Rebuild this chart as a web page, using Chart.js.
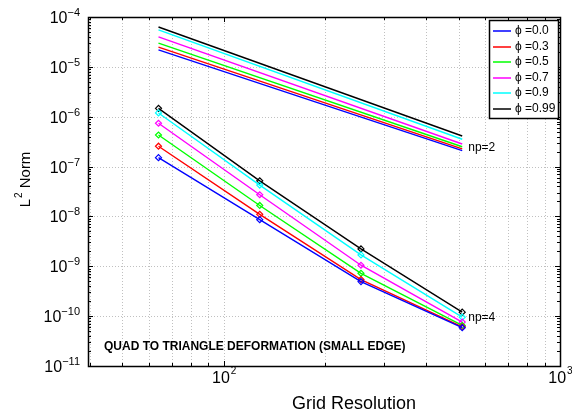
<!DOCTYPE html>
<html><head><meta charset="utf-8">
<script src="https://cdn.jsdelivr.net/npm/chart.js@4/dist/chart.umd.min.js"></script>
<style>html,body{margin:0;padding:0;background:#fff}canvas{display:block}</style>
</head><body>
<canvas id="c" width="572" height="419"></canvas>
<script>
// ---- data ----
const gridRes = [64, 128, 256, 512];     // np=4 sample points
const gridResNp2 = [64, 512];             // np=2 lines (drawn without markers)
const phiLabels = ['ϕ =0.0', 'ϕ =0.3', 'ϕ =0.5', 'ϕ =0.7', 'ϕ =0.9', 'ϕ =0.99'];
const seriesColors = ['#0000ff', '#ff0000', '#00ff00', '#ff00ff', '#00ffff', '#000000'];

const np2_phi000 = [2.19e-5, 2.09e-7];
const np2_phi030 = [2.48e-5, 2.26e-7];
const np2_phi050 = [3.0e-5, 2.5e-7];
const np2_phi070 = [4.0e-5, 2.84e-7];
const np2_phi090 = [5.5e-5, 3.53e-7];
const np2_phi099 = [6.3e-5, 4.1e-7];

const np4_phi000 = [1.51e-7, 8.6e-9, 4.94e-10, 5.86e-11];
const np4_phi030 = [2.56e-7, 1.1e-8, 5.42e-10, 6.1e-11];
const np4_phi050 = [4.3e-7, 1.66e-8, 7.24e-10, 6.5e-11];
const np4_phi070 = [7.4e-7, 2.72e-8, 1.05e-9, 7.59e-11];
const np4_phi090 = [1.19e-6, 4.25e-8, 1.69e-9, 9.55e-11];
const np4_phi099 = [1.47e-6, 5.18e-8, 2.23e-9, 1.2e-10];

const xTickDecades = [2, 3];
const yTickDecades = [-4, -5, -6, -7, -8, -9, -10, -11];
const xLabel = 'Grid Resolution';
const yLabelMain = 'L', yLabelSup = '2', yLabelRest = ' Norm';
const annotNp2 = 'np=2', annotNp4 = 'np=4';
const titleNote = 'QUAD TO TRIANGLE DEFORMATION (SMALL EDGE)';

const np2Series = [np2_phi000, np2_phi030, np2_phi050, np2_phi070, np2_phi090, np2_phi099];
const np4Series = [np4_phi000, np4_phi030, np4_phi050, np4_phi070, np4_phi090, np4_phi099];

const FONT = '"Liberation Sans", Arial, Helvetica, sans-serif';

const datasets = [];
np2Series.forEach((s, i) => datasets.push({
  label: phiLabels[i] + ' np=2',
  data: gridResNp2.map((x, j) => ({x, y: s[j]})),
  borderColor: seriesColors[i], borderWidth: 1.4, pointRadius: 0, fill: false, tension: 0
}));
np4Series.forEach((s, i) => datasets.push({
  label: phiLabels[i] + ' np=4',
  data: gridRes.map((x, j) => ({x, y: s[j]})),
  borderColor: seriesColors[i], borderWidth: 1.4, pointStyle: 'rectRot', pointRadius: 3,
  pointBorderWidth: 1.2, pointBorderColor: seriesColors[i], pointBackgroundColor: 'rgba(255,255,255,0)',
  fill: false, tension: 0
}));

function minorVals(lo, hi) { // all 1..9 x 10^k within [lo,hi]
  const out = [];
  for (let k = Math.floor(Math.log10(lo)) - 1; k <= Math.ceil(Math.log10(hi)); k++)
    for (let m = 1; m <= 9; m++) {
      const v = m * Math.pow(10, k);
      if (v >= lo * 0.9999 && v <= hi * 1.0001) out.push({v, major: m === 1});
    }
  return out;
}

const decor = {
  id: 'decor',
  beforeDatasetsDraw(chart) {
    const {ctx, chartArea: a, scales: {x, y}} = chart;
    ctx.save();
    ctx.strokeStyle = '#c0c0c0'; ctx.lineWidth = 1; ctx.setLineDash([1, 2]);
    minorVals(x.min, x.max).forEach(t => {
      const px = Math.round(x.getPixelForValue(t.v)) + 0.5;
      if (px <= a.left + 1 || px >= a.right - 1) return;
      ctx.beginPath(); ctx.moveTo(px, a.top); ctx.lineTo(px, a.bottom); ctx.stroke();
    });
    yTickDecades.forEach(d => {
      const py = Math.round(y.getPixelForValue(Math.pow(10, d))) + 0.5;
      if (py <= a.top + 1 || py >= a.bottom - 1) return;
      ctx.beginPath(); ctx.moveTo(a.left, py); ctx.lineTo(a.right, py); ctx.stroke();
    });
    ctx.restore();
  },
  afterDatasetsDraw(chart) {
    const {ctx, chartArea: a, scales: {x, y}} = chart;
    ctx.save();
    ctx.setLineDash([]);
    ctx.strokeStyle = '#000'; ctx.lineWidth = 1;
    // ticks
    ctx.beginPath();
    minorVals(x.min, x.max).forEach(t => {
      const px = Math.round(x.getPixelForValue(t.v)) + 0.5;
      const L = t.major ? 5 : 3;
      ctx.moveTo(px, a.bottom); ctx.lineTo(px, a.bottom - L);
      ctx.moveTo(px, a.top); ctx.lineTo(px, a.top + L);
    });
    minorVals(y.min, y.max).forEach(t => {
      const py = Math.round(y.getPixelForValue(t.v)) + 0.5;
      const L = t.major ? 5 : 3;
      ctx.moveTo(a.left, py); ctx.lineTo(a.left + L, py);
      ctx.moveTo(a.right, py); ctx.lineTo(a.right - L, py);
    });
    ctx.stroke();
    // box
    ctx.lineWidth = 1.5;
    ctx.strokeRect(Math.round(a.left) + 0.5, Math.round(a.top) + 0.5,
                   Math.round(a.right - a.left), Math.round(a.bottom - a.top));
    ctx.lineWidth = 1;
    ctx.fillStyle = '#000';
    // x tick labels
    xTickDecades.forEach(d => {
      const px = x.getPixelForValue(Math.pow(10, d));
      ctx.font = '16px ' + FONT; ctx.textBaseline = 'alphabetic'; ctx.textAlign = 'left';
      const w1 = ctx.measureText('10').width;
      ctx.font = '10px ' + FONT;
      const w2 = ctx.measureText(String(d)).width;
      const x0 = px - (w1 + w2) / 2;
      ctx.font = '16px ' + FONT; ctx.fillText('10', x0, a.bottom + 17);
      ctx.font = '10px ' + FONT; ctx.fillText(String(d), x0 + w1 + 1, a.bottom + 8);
    });
    // y tick labels
    yTickDecades.forEach(d => {
      const py = y.getPixelForValue(Math.pow(10, d));
      const e = '\u2212' + String(-d);
      ctx.font = '11px ' + FONT;
      const w2 = ctx.measureText(e).width;
      ctx.textAlign = 'left'; ctx.textBaseline = 'alphabetic';
      ctx.fillText(e, a.left - 8 - w2, py - 1);
      ctx.font = '16px ' + FONT;
      const w1 = ctx.measureText('10').width;
      ctx.fillText('10', a.left - 8 - w2 - w1, py + 6);
    });
    // axis titles
    ctx.font = '18px ' + FONT; ctx.textAlign = 'center'; ctx.textBaseline = 'middle';
    ctx.fillText(xLabel, 354, 404);
    ctx.save();
    ctx.translate(24, 180); ctx.rotate(-Math.PI / 2);
    ctx.font = '15px ' + FONT;
    const wl = ctx.measureText(yLabelMain).width;
    const wr = ctx.measureText(yLabelRest).width;
    ctx.font = '10px ' + FONT;
    const ws = ctx.measureText(yLabelSup).width;
    let sx = -(wl + ws + wr) / 2;
    ctx.textAlign = 'left'; ctx.textBaseline = 'alphabetic';
    ctx.font = '15px ' + FONT; ctx.fillText(yLabelMain, sx, 6);
    ctx.font = '10px ' + FONT; ctx.fillText(yLabelSup, sx + wl + 1, -2);
    ctx.font = '15px ' + FONT; ctx.fillText(yLabelRest, sx + wl + ws + 1, 6);
    ctx.restore();
    // annotations
    ctx.textAlign = 'left'; ctx.textBaseline = 'middle';
    ctx.font = '12px ' + FONT;
    ctx.fillText(annotNp2, x.getPixelForValue(512) + 6, 148);
    ctx.fillText(annotNp4, x.getPixelForValue(512) + 6, 318);
    ctx.font = 'bold 12px ' + FONT;
    ctx.fillText(titleNote, 104, 347);
    // legend
    const L = {x: 489.5, y: 20.5, w: 69, h: 98};
    ctx.fillStyle = '#fff'; ctx.fillRect(L.x, L.y, L.w, L.h);
    ctx.strokeStyle = '#000'; ctx.lineWidth = 1.5; ctx.strokeRect(L.x, L.y, L.w, L.h);
    ctx.lineWidth = 1.5;
    ctx.font = '12px ' + FONT; ctx.textBaseline = 'middle';
    phiLabels.forEach((lab, i) => {
      const ry = Math.round(31 + i * 15.6);
      ctx.strokeStyle = seriesColors[i];
      ctx.beginPath(); ctx.moveTo(493, ry); ctx.lineTo(511, ry); ctx.stroke();
      ctx.fillStyle = '#000'; ctx.fillText(lab, 515, ry);
    });
    ctx.restore();
  }
};

new Chart(document.getElementById('c'), {
  type: 'line',
  data: {datasets},
  options: {
    responsive: false, animation: false, devicePixelRatio: 1,
    layout: {padding: {left: 88, right: 12, top: 17, bottom: 53}},
    plugins: {legend: {display: false}, tooltip: {enabled: false}},
    scales: {
      x: {type: 'logarithmic', min: 39.5, max: 1000,
          ticks: {display: false}, grid: {display: false, drawTicks: false}, border: {display: false}},
      y: {type: 'logarithmic', min: 1e-11, max: 1e-4,
          ticks: {display: false}, grid: {display: false, drawTicks: false}, border: {display: false}}
    }
  },
  plugins: [decor]
});
</script>
</body></html>
